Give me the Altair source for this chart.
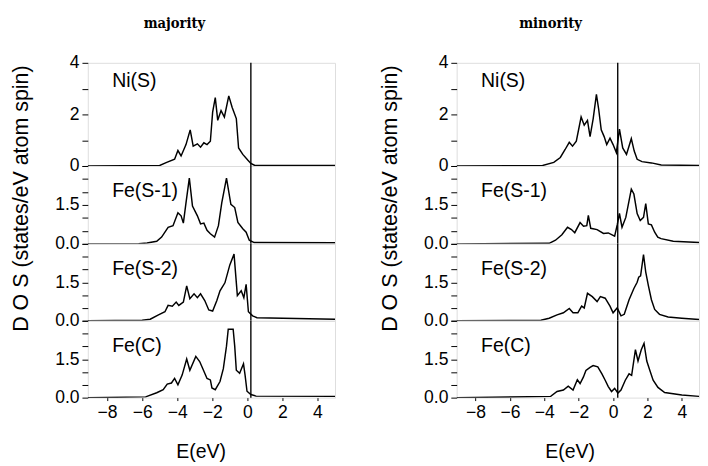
import altair as alt
import pandas as pd

# ---------------- data ----------------
PANEL_LABELS = ["Ni(S)", "Fe(S-1)", "Fe(S-2)", "Fe(C)"]
COLUMN_TITLES = ["majority", "minority"]
FERMI = [0.2, 0.27]          # Fermi-level marker (eV) for majority / minority
E_TICKS = [-8, -6, -4, -2, 0, 2, 4]

# majority spin
ni_maj_E = [-9.1, -5.0, -4.6, -4.15, -3.96, -3.78, -3.5, -3.26, -3.09, -2.85, -2.67, -2.48, -2.3, -2.11,
            -1.98, -1.83, -1.69, -1.5, -1.31, -1.06, -0.87, -0.63, -0.5, -0.26, 0.02, 0.2, 0.4, 5]
ni_maj_D = [0, 0.02, 0.14, 0.26, 0.6, 0.39, 0.83, 1.4, 0.77, 0.86, 0.73, 0.9, 0.83, 0.96,
            2.09, 2.65, 1.77, 2.15, 1.9, 2.72, 2.28, 1.84, 0.7, 0.45, 0.23, 0.1, 0.03, 0.02]

fes1_maj_E = [-9.1, -6.2, -5.72, -5.17, -4.89, -4.52, -4.24, -3.96, -3.78, -3.65, -3.5, -3.31, -3.13, -2.85,
              -2.67, -2.48, -2.3, -2.11, -1.87, -1.65, -1.46, -1.19, -0.94, -0.72, -0.54, -0.26, -0.07,
              0.11, 0.39, 5]
fes1_maj_D = [0, 0.01, 0.03, 0.1, 0.26, 0.64, 0.7, 1.2, 1.08, 0.8, 1.58, 2.53, 1.46, 1.08,
              0.77, 0.8, 0.52, 0.39, 0.26, 0.7, 1.58, 2.53, 1.52, 1.4, 0.83, 0.58, 0.45,
              0.14, 0.05, 0.04]

fes2_maj_E = [-9.1, -6.0, -5.54, -5.07, -4.7, -4.52, -4.28, -4.06, -3.91, -3.65, -3.46, -3.28, -3.04, -2.85,
              -2.67, -2.43, -2.2, -1.98, -1.74, -1.56, -1.28, -1.0, -0.76, -0.57, -0.35, -0.2, -0.07,
              0.06, 0.3, 0.55, 5]
fes2_maj_D = [0, 0.02, 0.06, 0.23, 0.35, 0.6, 0.57, 0.73, 0.6, 0.73, 1.36, 0.86, 1.05, 0.9,
              1.05, 0.79, 0.42, 0.38, 0.79, 1.17, 1.48, 2.18, 2.6, 0.98, 1.17, 0.9, 1.42,
              0.35, 0.19, 0.12, 0.06]

fec_maj_E = [-9.1, -5.8, -5.17, -4.8, -4.57, -4.33, -4.15, -3.96, -3.72, -3.46, -3.28, -2.94, -2.72, -2.54,
             -2.3, -2.11, -2.02, -1.83, -1.56, -1.37, -1.19, -1.09, -0.81, -0.72, -0.63, -0.44, -0.22,
             -0.13, -0.02, 0.2, 0.5, 5]
fec_maj_D = [0, 0.03, 0.19, 0.31, 0.53, 0.57, 0.75, 0.5, 0.88, 1.51, 1.07, 1.61, 1.41, 1.13,
             0.75, 0.69, 0.38, 0.31, 0.63, 1.13, 2.01, 2.67, 2.67, 2.0, 1.07, 0.95, 1.32,
             0.88, 0.25, 0.12, 0.06, 0.05]

# minority spin
ni_min_E = [-9.1, -4.1, -3.45, -3.07, -2.79, -2.55, -2.36, -2.14, -1.86, -1.68, -1.49, -1.34, -1.16, -0.97,
            -0.84, -0.69, -0.52, -0.37, -0.18, 0.0, 0.19, 0.37, 0.56, 0.78, 1.06, 1.23, 1.4, 1.68,
            2.23, 2.8, 5]
ni_min_D = [0, 0.02, 0.14, 0.33, 0.64, 0.92, 0.77, 0.96, 1.9, 1.58, 1.77, 1.14, 1.83, 2.78,
            2.21, 1.4, 1.14, 0.83, 1.08, 0.83, 0.52, 1.43, 0.7, 0.45, 1.06, 0.58, 0.26, 0.17,
            0.12, 0.04, 0.02]

fes1_min_E = [-9.1, -3.72, -3.35, -2.98, -2.65, -2.42, -2.23, -1.92, -1.72, -1.53, -1.44, -1.3, -0.93, -0.56,
              -0.28, 0.09, 0.24, 0.37, 0.52, 0.74, 0.93, 1.06, 1.21, 1.4, 1.58, 1.77, 1.9, 2.05,
              2.23, 2.42, 2.6, 2.79, 3.5, 5]
fes1_min_D = [0, 0.02, 0.14, 0.35, 0.64, 0.55, 0.43, 0.82, 0.68, 0.7, 1.1, 0.6, 0.55, 0.4,
              0.42, 0.3, 0.73, 1.17, 0.64, 1.02, 1.67, 2.11, 1.92, 1.17, 0.9, 1.02, 1.55, 0.77,
              0.73, 0.45, 0.26, 0.2, 0.1, 0.05]

fes2_min_E = [-9.1, -4.2, -3.72, -3.26, -2.89, -2.55, -2.33, -2.05, -1.83, -1.68, -1.49, -1.21, -0.93, -0.74,
              -0.46, -0.18, 0.0, 0.24, 0.46, 0.65, 0.93, 1.21, 1.4, 1.49, 1.6, 1.77, 1.9, 2.05,
              2.23, 2.42, 2.7, 3.2, 4.0, 5]
fes2_min_D = [0, 0.02, 0.1, 0.23, 0.31, 0.48, 0.31, 0.31, 0.57, 0.5, 1.07, 0.94, 0.75, 0.94,
              0.88, 0.57, 0.31, 0.5, 0.19, 0.25, 0.82, 1.26, 1.5, 1.7, 1.75, 2.58, 1.9, 1.38,
              0.82, 0.44, 0.25, 0.15, 0.1, 0.05]

fec_min_E = [-9.1, -3.63, -3.26, -2.89, -2.61, -2.33, -2.08, -1.92, -1.73, -1.58, -1.34, -1.16, -0.89, -0.65,
             -0.46, -0.28, -0.09, 0.09, 0.28, 0.46, 0.71, 0.93, 1.08, 1.3, 1.45, 1.64, 1.8, 1.96,
             2.14, 2.33, 2.61, 3.0, 4.0, 5]
fec_min_D = [0, 0.05, 0.24, 0.3, 0.45, 0.3, 0.7, 0.55, 0.8, 1.06, 1.18, 1.25, 1.2, 0.93,
             0.68, 0.43, 0.24, 0.36, 0.18, 0.3, 0.68, 0.93, 0.87, 1.87, 1.43, 1.87, 2.12, 1.43,
             1.06, 0.68, 0.4, 0.2, 0.1, 0.05]

MAJ = [(ni_maj_E, ni_maj_D), (fes1_maj_E, fes1_maj_D), (fes2_maj_E, fes2_maj_D), (fec_maj_E, fec_maj_D)]
MIN = [(ni_min_E, ni_min_D), (fes1_min_E, fes1_min_D), (fes2_min_E, fes2_min_D), (fec_min_E, fec_min_D)]

# ---------------- styling ----------------
FONT = "Liberation Sans"
HEIGHTS = [106, 80, 79, 79]
YMAX = [4, 3, 3, 3]


def panel(E, D, label, ef, idx, width, col_title, title_dx):
    df = pd.DataFrame({"E": E, "DOS": D})
    bottom = idx == 3
    top = idx == 0
    if bottom:
        xaxis = alt.Axis(values=E_TICKS, title="E(eV)", grid=False, domain=False,
                         tickSize=3, tickColor="black", labelFont=FONT, labelFontSize=18,
                         labelColor="black", labelPadding=3, titleFont=FONT, titleFontSize=20,
                         titleFontWeight="normal", titleColor="black", titlePadding=21,
                         titleX=116)
    else:
        xaxis = None
    xenc = alt.X("E:Q", scale=alt.Scale(domain=[-9.1, 5], nice=False, zero=False), axis=xaxis)
    if top:
        yaxis = alt.Axis(values=[0, 1, 2, 3, 4], labelExpr="datum.value % 2 == 0 ? datum.label : ''",
                         format="d", title=None, grid=False, domain=False, tickSize=6,
                         tickColor="black", labelFont=FONT, labelFontSize=18, labelColor="black",
                         labelPadding=3)
    else:
        yaxis = alt.Axis(values=[0, 0.5, 1, 1.5, 2, 2.5, 3],
                         labelExpr="datum.value == 0 || datum.value == 1.5 ? format(datum.value, '.1f') : ''",
                         title=None, grid=False, domain=False, tickSize=6, tickColor="black",
                         labelFont=FONT, labelFontSize=18, labelColor="black", labelPadding=3)
    yenc = alt.Y("DOS:Q", scale=alt.Scale(domain=[0, YMAX[idx]], nice=False), axis=yaxis)

    line = alt.Chart(df).mark_line(color="black", strokeWidth=1.5, clip=True).encode(x=xenc, y=yenc)
    rule = alt.Chart(pd.DataFrame({"E": [ef]})).mark_rule(color="black", strokeWidth=1.4).encode(x=xenc)
    text = alt.Chart(pd.DataFrame({"label": [label]})).mark_text(
        align="left", baseline="middle", font=FONT, fontSize=20, color="black"
    ).encode(x=alt.value(25), y=alt.value(19 if top else 26), text="label:N")
    props = dict(width=width, height=HEIGHTS[idx])
    if top:
        props["title"] = alt.TitleParams(col_title, font="DejaVu Serif Condensed", fontSize=15,
                                         fontWeight="bold", color="black", anchor="middle",
                                         offset=24, dx=title_dx)
    return alt.layer(line, rule, text).properties(**props)


def column(curves, ef, width, col_title, title_dx):
    panels = [panel(E, D, lab, ef, i, width, col_title, title_dx)
              for i, ((E, D), lab) in enumerate(zip(curves, PANEL_LABELS))]
    return alt.vconcat(*panels, spacing=0, bounds="flush",
                       title=alt.TitleParams("D O S (states/eV atom spin)", orient="left",
                                             anchor="middle", font=FONT, fontSize=22,
                                             fontWeight="normal", color="black", offset=22,
                                             dx=41))


left = column(MAJ, FERMI[0], 254, COLUMN_TITLES[0], -38)
right = column(MIN, FERMI[1], 249, COLUMN_TITLES[1], -28)

chart = alt.hconcat(left, right, spacing=44).properties(
    padding={"left": 2, "top": 1, "right": 0, "bottom": 2}
).configure_view(stroke="black", strokeWidth=1.4).configure(background="white")

chart.save("out.html", embed_options={"renderer": "svg", "actions": False})
